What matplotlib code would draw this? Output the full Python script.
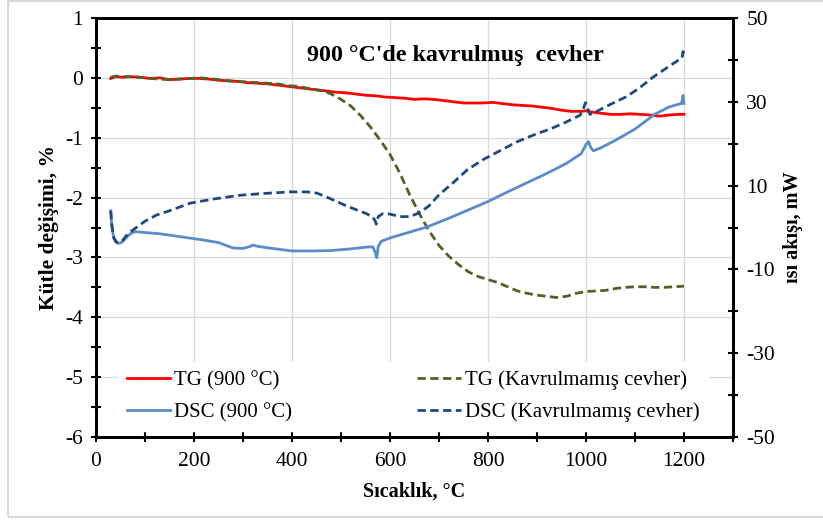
import matplotlib
matplotlib.use("Agg")
from matplotlib import pyplot as plt
from matplotlib.patches import Rectangle
from matplotlib.ticker import MultipleLocator, FixedLocator

plt.rcParams['font.family'] = ['Liberation Serif', 'DejaVu Serif']
plt.rcParams['axes.unicode_minus'] = False

# TG, 900 °C roasted ore (mass change, %)
temp_tg900 = [30, 40, 55, 70, 90, 110, 130, 150, 170, 190, 210, 230, 250, 270, 290,
              310, 330, 350, 370, 390, 410, 430, 450, 470, 490, 510, 530, 550, 570,
              590, 610, 630, 650, 670, 690, 710, 730, 750, 770, 790, 810, 830, 850,
              870, 890, 910, 930, 950, 970, 990, 1000, 1010, 1030, 1050, 1070, 1090,
              1110, 1130, 1150, 1170, 1190, 1200]
tg900 = [-0.01, 0.02, 0.01, 0.02, 0.01, -0.01, 0.0, -0.03, -0.02, -0.01, -0.01, -0.02,
         -0.04, -0.05, -0.06, -0.08, -0.09, -0.10, -0.12, -0.14, -0.16, -0.18, -0.20,
         -0.22, -0.24, -0.25, -0.27, -0.29, -0.30, -0.32, -0.33, -0.34, -0.36, -0.35,
         -0.36, -0.38, -0.40, -0.42, -0.42, -0.42, -0.41, -0.43, -0.45, -0.46, -0.47,
         -0.49, -0.51, -0.54, -0.56, -0.56, -0.55, -0.57, -0.59, -0.61, -0.61, -0.60,
         -0.61, -0.62, -0.64, -0.62, -0.61, -0.61]

# TG, unroasted ore
temp_tgk = [30, 40, 55, 70, 90, 110, 130, 150, 170, 190, 210, 230, 250, 270, 290, 310,
            330, 350, 370, 390, 410, 430, 450, 465, 480, 500, 520, 540, 560, 580, 600,
            620, 640, 660, 680, 700, 720, 740, 760, 780, 800, 820, 840, 860, 880, 900,
            920, 940, 960, 980, 1000, 1020, 1040, 1060, 1080, 1100, 1120, 1140, 1160,
            1180, 1200]
tgk = [0.01, 0.03, 0.02, 0.02, 0.01, -0.01, -0.02, -0.03, -0.02, -0.01, 0.0, -0.01,
       -0.03, -0.05, -0.06, -0.07, -0.08, -0.09, -0.10, -0.13, -0.14, -0.17, -0.20,
       -0.22, -0.27, -0.36, -0.47, -0.63, -0.82, -1.04, -1.28, -1.59, -1.95, -2.27,
       -2.56, -2.80, -2.98, -3.12, -3.24, -3.32, -3.37, -3.42, -3.49, -3.56, -3.60,
       -3.63, -3.65, -3.67, -3.65, -3.60, -3.57, -3.56, -3.55, -3.52, -3.50, -3.49,
       -3.49, -3.50, -3.50, -3.49, -3.48]

# DSC, 900 °C roasted ore (heat flow, mW)
temp_dsc900 = [30, 32, 36, 40, 45, 52, 60, 70, 80, 100, 130, 160, 190, 220, 250, 280,
               300, 315, 320, 330, 360, 400, 440, 480, 520, 550, 565, 570, 573, 576,
               582, 600, 640, 675, 720, 760, 800, 840, 880, 920, 960, 990, 1000, 1005,
               1010, 1015, 1030, 1060, 1100, 1140, 1170, 1195, 1198, 1200]
dsc900 = [4.0, 0.5, -2.5, -3.4, -3.8, -3.6, -2.6, -1.5, -1.0, -1.2, -1.5, -2.0, -2.5,
          -3.0, -3.6, -4.9, -5.0, -4.5, -4.2, -4.5, -5.0, -5.6, -5.6, -5.5, -5.1, -4.7,
          -4.6, -6.0, -7.2, -4.5, -3.3, -2.5, -1.1, 0.1, 2.2, 4.2, 6.2, 8.5, 10.7, 12.9,
          15.3, 17.6, 19.8, 20.5, 19.0, 18.3, 19.0, 20.8, 23.5, 27.0, 28.8, 29.6, 31.5,
          29.6]

# DSC, unroasted ore
temp_dsck = [30, 33, 37, 42, 48, 55, 65, 80, 100, 124, 150, 192, 240, 294, 340, 396,
             430, 451, 480, 510, 532, 550, 565, 570, 572, 576, 585, 600, 620, 640, 660,
             680, 700, 730, 757, 790, 824, 860, 900, 927, 960, 988, 995, 999, 1003, 1008,
             1020, 1050, 1084, 1110, 1137, 1170, 1196, 1198, 1200]
dsck = [4.0, 0.0, -2.6, -3.5, -3.6, -3.0, -1.5, -0.2, 1.5, 3.0, 4.0, 5.8, 6.8, 7.7,
        8.1, 8.5, 8.5, 8.2, 6.8, 5.2, 4.2, 3.4, 2.5, 1.5, 0.8, 2.6, 3.3, 3.2, 2.6, 2.6,
        3.5, 5.2, 7.8, 10.8, 13.7, 16.2, 18.3, 20.5, 22.4, 23.5, 25.2, 26.8, 28.5, 29.8,
        28.5, 27.0, 27.6, 29.4, 31.3, 33.4, 35.9, 38.5, 40.5, 42.0, 41.0]

left_ticks = [1, 0, -1, -2, -3, -4, -5, -6]
right_labels = [-50, -30, -10, 10, 30, 50]

fig = plt.figure(figsize=(8.23, 5.22), dpi=100)
fig.patches.append(Rectangle((8 / 823, 1 - 517 / 522), 1.0, 516 / 522,
                             transform=fig.transFigure, fill=False,
                             edgecolor='#d9d9d9', linewidth=1.5))

ax = fig.add_axes([96 / 823, 1 - 437 / 522, 637 / 823, 419 / 522])
ax2 = ax.twinx()

dash = (0, (3, 1.6))
l1, = ax.plot(temp_tg900, tg900, color='#ff0000', lw=2.0, label='TG (900 °C)')
l3, = ax.plot(temp_tgk, tgk, color='#4f6228', lw=2.0, ls=dash,
              label='TG (Kavrulmamış cevher)')
l2, = ax2.plot(temp_dsc900, dsc900, color='#5b8cc8', lw=2.0, label='DSC (900 °C)')
l4, = ax2.plot(temp_dsck, dsck, color='#1f4a7e', lw=2.0, ls=dash,
               label='DSC (Kavrulmamış cevher)')

ax.set_xlim(0, 1300)
ax.set_ylim(-6, 1)
ax2.set_ylim(-50, 50)

ax.xaxis.set_major_locator(FixedLocator([0, 200, 400, 600, 800, 1000, 1200]))
ax.xaxis.set_minor_locator(MultipleLocator(100))
ax.set_yticks(left_ticks)
ax.yaxis.set_minor_locator(MultipleLocator(0.5))
ax2.set_yticks(right_labels)
ax2.yaxis.set_minor_locator(MultipleLocator(10))

ax.grid(True, which='major', color='#d9d9d9', lw=0.9)
ax.set_axisbelow(True)

for a in (ax, ax2):
    a.tick_params(which='both', direction='inout', length=7, width=1.5,
                  labelsize=15.5, color='black')
    for s in a.spines.values():
        s.set_linewidth(2)
ax.tick_params(axis='y', pad=6)
ax2.tick_params(axis='y', pad=6)
ax.tick_params(axis='x', pad=7)

ax.set_xlabel('Sıcaklık, °C', fontsize=14.5, fontweight='bold', labelpad=8)
ax.set_ylabel('Kütle değişimi, %', fontsize=15.5, fontweight='bold', labelpad=4)
ax2.set_ylabel('ısı akışı, mW', fontsize=14.5, fontweight='bold', labelpad=6)

ax.text(0.564, 0.91, "900 °C'de kavrulmuş  cevher", transform=ax.transAxes,
        ha='center', va='center', fontsize=17.3, fontweight='bold')

leg = ax2.legend(handles=[l1, l2, l3, l4], ncol=2, loc='lower left',
                 bbox_to_anchor=(0.025, 0.0), fontsize=15, frameon=True,
                 handlelength=2.1, columnspacing=6.0, labelspacing=0.6,
                 handletextpad=0.2, borderaxespad=0.3, fancybox=False)
leg.get_frame().set_facecolor('white')
leg.get_frame().set_edgecolor('white')
leg.get_frame().set_alpha(1)

fig.savefig('out.png', dpi=100)
